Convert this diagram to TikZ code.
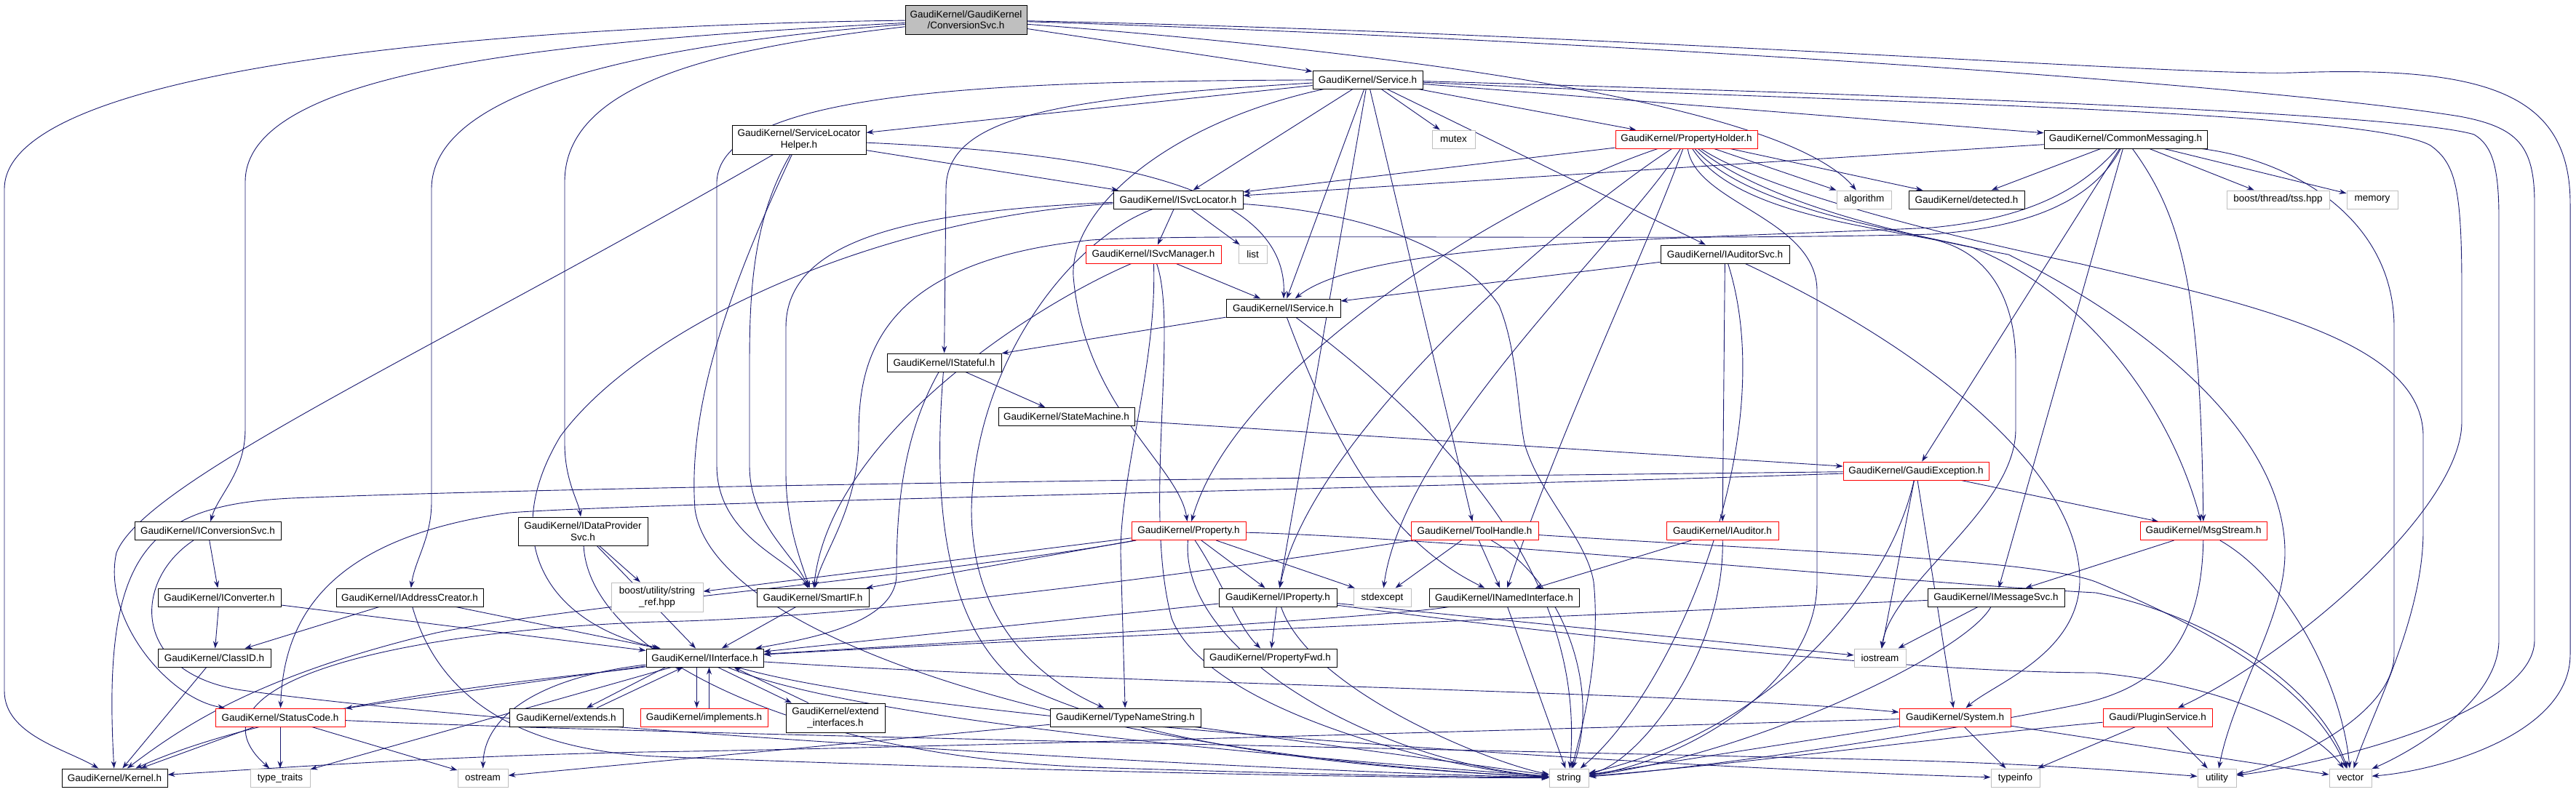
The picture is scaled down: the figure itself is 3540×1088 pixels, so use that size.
\documentclass[tikz,border=0pt]{standalone}
\usepackage{fontspec}
\setmainfont{Liberation Sans}
\usetikzlibrary{arrows.meta}
\definecolor{edgec}{RGB}{25,25,112}
\definecolor{greyb}{RGB}{191,191,191}
\pgfdeclarelayer{bg}
\pgfsetlayers{bg,main}
\tikzset{
 bx/.style={draw=black, line width=1pt, rectangle, inner sep=0pt, align=center, font=\fontsize{13.5}{15.5}\selectfont, fill=white},
 rb/.style={bx, draw=red},
 gb/.style={bx, draw=greyb},
 rootb/.style={bx, fill=greyb},
 edg/.style={draw=edgec, line width=0.9pt, -{Stealth[length=10pt,width=7pt]}},
}
\newcommand{\nd}[7]{\node[#6,minimum width=#4pt,minimum height=#5pt] (#1) at (#2,#3) {#7};}
\begin{document}
\begin{tikzpicture}[x=1pt,y=-1pt]
\useasboundingbox (0,0) rectangle (3540,1088);
\nd{root}{1327.5}{27}{167}{40}{rootb}{GaudiKernel/GaudiKernel\\/ConversionSvc.h}
\nd{Service}{1879.5}{109.5}{151}{25}{bx}{GaudiKernel/Service.h}
\nd{SLH}{1098}{192}{184}{40}{bx}{GaudiKernel/ServiceLocator\\Helper.h}
\nd{mutex}{1997.5}{191.5}{59}{25}{gb}{mutex}
\nd{PH}{2317.5}{191.5}{195}{25}{rb}{GaudiKernel/PropertyHolder.h}
\nd{CM}{2921}{191.5}{224}{25}{bx}{GaudiKernel/CommonMessaging.h}
\nd{ISL}{1619}{274.5}{178}{25}{bx}{GaudiKernel/ISvcLocator.h}
\nd{algorithm}{2561.5}{274.5}{75}{25}{gb}{algorithm}
\nd{detected}{2702.5}{274.5}{159}{25}{bx}{GaudiKernel/detected.h}
\nd{tss}{3130.5}{274.5}{141}{25}{gb}{boost/thread/tss.hpp}
\nd{memory}{3260}{274.5}{70}{25}{gb}{memory}
\nd{ISM}{1585}{349.5}{186}{25}{rb}{GaudiKernel/ISvcManager.h}
\nd{list}{1721.5}{349.5}{39}{25}{gb}{list}
\nd{IAS}{2370.5}{349.5}{177}{25}{bx}{GaudiKernel/IAuditorSvc.h}
\nd{IService}{1763.5}{423.5}{157}{25}{bx}{GaudiKernel/IService.h}
\nd{IStateful}{1297.5}{498.5}{157}{25}{bx}{GaudiKernel/IStateful.h}
\nd{SM}{1465.5}{573}{187}{25}{bx}{GaudiKernel/StateMachine.h}
\nd{GE}{2633}{647.5}{200}{25}{rb}{GaudiKernel/GaudiException.h}
\nd{ICS}{285.5}{730}{201}{25}{bx}{GaudiKernel/IConversionSvc.h}
\nd{IDP}{801}{730.5}{178}{39}{bx}{GaudiKernel/IDataProvider\\Svc.h}
\nd{TH}{2026.5}{730}{175}{25}{rb}{GaudiKernel/ToolHandle.h}
\nd{IAud}{2367}{730}{154}{25}{rb}{GaudiKernel/IAuditor.h}
\nd{MS}{3028}{730}{174}{25}{rb}{GaudiKernel/MsgStream.h}
\nd{Prop}{1633.5}{730}{157}{25}{rb}{GaudiKernel/Property.h}
\nd{ICv}{301.5}{821.5}{169}{25}{bx}{GaudiKernel/IConverter.h}
\nd{IAC}{563}{821.5}{202}{25}{bx}{GaudiKernel/IAddressCreator.h}
\nd{sref}{903}{821}{126}{40}{gb}{boost/utility/string\\\_ref.hpp}
\nd{SmartIF}{1117}{821.5}{154}{25}{bx}{GaudiKernel/SmartIF.h}
\nd{IProp}{1756}{821.5}{162}{25}{bx}{GaudiKernel/IProperty.h}
\nd{stdexcept}{1899.5}{821.5}{79}{25}{gb}{stdexcept}
\nd{INI}{2067}{821.5}{206}{25}{bx}{GaudiKernel/INamedInterface.h}
\nd{IMS}{2743}{821.5}{188}{25}{bx}{GaudiKernel/IMessageSvc.h}
\nd{ClassID}{294.5}{904.5}{155}{25}{bx}{GaudiKernel/ClassID.h}
\nd{IIf}{968.5}{904.5}{161}{25}{bx}{GaudiKernel/IInterface.h}
\nd{PFwd}{1745.5}{904.5}{183}{25}{bx}{GaudiKernel/PropertyFwd.h}
\nd{iostream}{2583.5}{904.5}{71}{25}{gb}{iostream}
\nd{SC}{385}{986.5}{178}{25}{rb}{GaudiKernel/StatusCode.h}
\nd{extends}{778}{986.5}{156}{25}{bx}{GaudiKernel/extends.h}
\nd{implements}{967.5}{986.5}{175}{25}{rb}{GaudiKernel/implements.h}
\nd{extif}{1148}{987}{136}{40}{bx}{GaudiKernel/extend\\\_interfaces.h}
\nd{TNS}{1546.5}{986.5}{207}{25}{bx}{GaudiKernel/TypeNameString.h}
\nd{System}{2686.5}{986.5}{153}{25}{rb}{GaudiKernel/System.h}
\nd{PS}{2965}{986.5}{150}{25}{rb}{Gaudi/PluginService.h}
\nd{Kernel}{157.5}{1069.5}{145}{25}{bx}{GaudiKernel/Kernel.h}
\nd{ttraits}{385}{1069.5}{82}{25}{gb}{type\_traits}
\nd{ostream}{663.5}{1069.5}{69}{25}{gb}{ostream}
\nd{string}{2156}{1069.5}{54}{25}{gb}{string}
\nd{typeinfo}{2769.5}{1069.5}{67}{25}{gb}{typeinfo}
\nd{utility}{3046.5}{1069.5}{53}{25}{gb}{utility}
\nd{vector}{3230}{1069.5}{58}{25}{gb}{vector}
\begin{pgfonlayer}{bg}
\fill[white] (0,0) rectangle (3540,1088);
% root
\draw[edg] (root) -- (Service);
\draw[edg] (root) .. controls (700,35) and (6,90) .. (6,260) -- (6,950) .. controls (6,1010) and (90,1030) .. (Kernel);
\draw[edg] (root) .. controls (800,55) and (337,90) .. (337,250) -- (337,590) .. controls (337,650) and (300,680) .. (ICS);
\draw[edg] (root) .. controls (900,60) and (593,120) .. (593,260) -- (593,690) .. controls (593,740) and (570,770) .. (IAC);
\draw[edg] (root) .. controls (1000,65) and (776,110) .. (776,250) -- (776,610) .. controls (776,660) and (795,690) .. (IDP);
\draw[edg] (root) .. controls (1900,70) and (2450,140) .. (algorithm);
\draw[edg] (root) .. controls (2200,45) and (3000,105) .. (3150,100) .. controls (3420,90) and (3532,130) .. (3532,280) -- (3532,900) .. controls (3532,1010) and (3350,1060) .. (vector);
\draw[edg] (root) .. controls (2200,55) and (3100,115) .. (3380,160) .. controls (3460,175) and (3483,200) .. (3483,280) -- (3483,880) .. controls (3483,980) and (3200,1050) .. (utility);
% Service
\draw[edg] (Service) -- (SLH);
\draw[edg] (Service) -- (ISL);
\draw[edg] (Service) -- (mutex);
\draw[edg] (Service) -- (PH);
\draw[edg] (Service) -- (CM);
\draw[edg] (Service) -- (IAS);
\draw[edg] (Service) .. controls (1450,135) and (1300,160) .. (1300,260) -- (IStateful);
\draw[edg] (Service) -- (IService);
\draw[edg] (Service) .. controls (1400,112) and (990,120) .. (985,250) -- (985,640) .. controls (985,740) and (1090,770) .. (SmartIF);
\draw[edg] (Service) .. controls (1600,170) and (1470,290) .. (1475,380) .. controls (1490,560) and (1620,640) .. (Prop);
\draw[edg] (Service) -- (IProp);
\draw[edg] (Service) -- (TH);
\draw[edg] (Service) .. controls (2600,130) and (3300,155) .. (3400,185) .. controls (3425,200) and (3434,230) .. (3434,300) -- (3434,880) .. controls (3434,970) and (3300,1040) .. (vector);
\draw[edg] (Service) .. controls (2500,140) and (3250,150) .. (3340,200) .. controls (3375,225) and (3383,260) .. (3383,400) -- (3383,580) .. controls (3383,700) and (3150,900) .. (PS);
% SLH
\draw[edg] (SLH) -- (ISL);
\draw[edg] (SLH) .. controls (1500,210) and (1770,250) .. (IService);
\draw[edg] (SLH) .. controls (1035,300) and (1030,400) .. (1030,500) -- (1030,640) .. controls (1030,720) and (1090,760) .. (SmartIF);
\draw[edg] (SLH) .. controls (1000,400) and (945,560) .. (955,700) .. controls (980,880) and (1500,1040) .. (string);
\draw[edg] (SLH) .. controls (600,480) and (200,660) .. (160,760) .. controls (140,850) and (230,960) .. (SC);
% PH
\draw[edg] (PH) -- (ISL);
\draw[edg] (PH) -- (algorithm);
\draw[edg] (PH) -- (detected);
\draw[edg] (PH) .. controls (2080,270) and (1700,500) .. (Prop);
\draw[edg] (PH) .. controls (2150,300) and (1800,600) .. (IProp);
\draw[edg] (PH) .. controls (2260,350) and (2140,600) .. (INI);
\draw[edg] (PH) .. controls (2230,330) and (1930,600) .. (stdexcept);
\draw[edg] (PH) .. controls (2330,280) and (2497,300) .. (2497,400) -- (2497,800) .. controls (2497,950) and (2300,1050) .. (string);
\draw[edg] (PH) .. controls (2380,290) and (2560,310) .. (2660,330) .. controls (2740,350) and (2770,420) .. (2770,500) -- (2770,590) .. controls (2770,700) and (2600,800) .. (iostream);
\draw[edg] (PH) .. controls (2400,285) and (2600,315) .. (2710,340) .. controls (2860,400) and (2980,550) .. (MS);
\draw[edg] (PH) .. controls (2420,275) and (2600,320) .. (2760,350) .. controls (2960,450) and (3140,600) .. (3140,760) .. controls (3140,850) and (3070,950) .. (utility);
\draw[edg] (PH) .. controls (2430,265) and (2700,330) .. (2860,363) .. controls (3100,420) and (3330,470) .. (3330,600) -- (3330,730) .. controls (3330,850) and (3260,980) .. (vector);
% CM
\draw[edg] (CM) -- (detected);
\draw[edg] (CM) -- (tss);
\draw[edg] (CM) -- (memory);
\draw[edg] (CM) -- (ISL);
\draw[edg] (CM) .. controls (2860,260) and (2790,300) .. (2655,313) .. controls (2300,330) and (1880,330) .. (IService);
\draw[edg] (CM) .. controls (2880,270) and (2800,312) .. (2655,322) .. controls (2300,332) and (1650,320) .. (1500,330) .. controls (1200,360) and (1180,500) .. (1180,600) .. controls (1180,700) and (1130,760) .. (SmartIF);
\draw[edg] (CM) -- (GE);
\draw[edg] (CM) -- (IMS);
\draw[edg] (CM) .. controls (3000,300) and (3024,400) .. (MS);
\draw[edg] (CM) .. controls (3150,220) and (3290,300) .. (3290,450) -- (3290,900) .. controls (3290,980) and (3150,1050) .. (utility);
% ISL
\draw[edg] (ISL) -- (ISM);
\draw[edg] (ISL) -- (list);
\draw[edg] (ISL) .. controls (1200,300) and (880,450) .. (770,600) .. controls (680,750) and (760,860) .. (IIf);
\draw[edg] (ISL) .. controls (1250,290) and (1080,330) .. (1080,450) -- (1080,650) .. controls (1080,720) and (1100,770) .. (SmartIF);
\draw[edg] (ISL) .. controls (1470,330) and (1340,500) .. (1335,700) .. controls (1335,850) and (1420,930) .. (TNS);
\draw[edg] (ISL) .. controls (1850,290) and (2000,330) .. (2060,420) .. controls (2085,480) and (2085,560) .. (2095,610) .. controls (2115,680) and (2180,740) .. (2190,800) .. controls (2200,900) and (2175,1000) .. (string);
% ISM
\draw[edg] (ISM) -- (IService);
\draw[edg] (ISM) .. controls (1420,420) and (1140,600) .. (SmartIF);
\draw[edg] (ISM) .. controls (1590,500) and (1540,650) .. (1540,760) -- (TNS);
\draw[edg] (ISM) .. controls (1620,450) and (1570,700) .. (1610,850) .. controls (1660,980) and (2000,1060) .. (string);
% IAS
\draw[edg] (IAS) -- (IService);
\draw[edg] (IAS) -- (IAud);
\draw[edg] (IAS) .. controls (2450,600) and (2300,950) .. (string);
\draw[edg] (IAS) .. controls (2650,480) and (2860,650) .. (2858,800) .. controls (2855,900) and (2740,940) .. (System);
% IService
\draw[edg] (IService) -- (IStateful);
\draw[edg] (IService) .. controls (1830,600) and (1900,740) .. (INI);
\draw[edg] (IService) .. controls (2000,600) and (2180,800) .. (string);
% IStateful
\draw[edg] (IStateful) -- (SM);
\draw[edg] (IStateful) .. controls (1240,600) and (1232,700) .. (1232,790) .. controls (1232,860) and (1100,880) .. (IIf);
\draw[edg] (IStateful) .. controls (1285,650) and (1285,850) .. (1400,940) .. controls (1600,1040) and (1950,1060) .. (string);
% SM
\draw[edg] (SM) -- (GE);
% GE
\draw[edg] (GE) -- (MS);
\draw[edg] (GE) .. controls (2000,655) and (900,665) .. (400,685) .. controls (200,695) and (140,760) .. (Kernel);
\draw[edg] (GE) .. controls (2000,670) and (900,690) .. (700,705) .. controls (450,740) and (390,850) .. (SC);
\draw[edg] (GE) -- (System);
\draw[edg] (GE) .. controls (2600,800) and (2450,1000) .. (string);
\draw[edg] (GE) -- (iostream);
% ICS
\draw[edg] (ICS) -- (ICv);
\draw[edg] (ICS) .. controls (180,800) and (180,930) .. (340,950) .. controls (700,1000) and (1700,1060) .. (string);
% ICv
\draw[edg] (ICv) -- (ClassID);
\draw[edg] (ICv) -- (IIf);
% IAC
\draw[edg] (IAC) -- (ClassID);
\draw[edg] (IAC) -- (IIf);
\draw[edg] (IAC) .. controls (600,950) and (700,1030) .. (900,1040) .. controls (1400,1060) and (1900,1070) .. (string);
% ClassID
\draw[edg] (ClassID) -- (Kernel);
% IDP
\draw[edg] (IDP) -- (sref);
\draw[edg] (IDP) -- (IIf);
\draw[edg] (IDP) .. controls (810,900) and (1100,1040) .. (1500,1055) .. controls (1800,1065) and (2000,1068) .. (string);
% TH
\draw[edg] (TH) -- (stdexcept);
\draw[edg] (TH) -- (INI);
\draw[edg] (TH) .. controls (2150,800) and (2200,950) .. (string);
\draw[edg] (TH) .. controls (1700,780) and (1200,850) .. (900,855) .. controls (500,870) and (250,950) .. (ttraits);
\draw[edg] (TH) .. controls (2500,760) and (2800,770) .. (2880,800) .. controls (3050,870) and (3180,950) .. (vector);
% IAud
\draw[edg] (IAud) -- (INI);
\draw[edg] (IAud) .. controls (2370,900) and (2250,1050) .. (string);
% MS
\draw[edg] (MS) -- (IMS);
\draw[edg] (MS) .. controls (3025,900) and (2950,950) .. (2850,970) .. controls (2600,1020) and (2300,1060) .. (string);
\draw[edg] (MS) .. controls (3150,800) and (3220,950) .. (vector);
% Prop
\draw[edg] (Prop) -- (sref);
\draw[edg] (Prop) -- (SmartIF);
\draw[edg] (Prop) .. controls (1300,790) and (800,830) .. (600,870) .. controls (350,930) and (250,1000) .. (Kernel);
\draw[edg] (Prop) -- (IProp);
\draw[edg] (Prop) .. controls (1680,800) and (1700,860) .. (PFwd);
\draw[edg] (Prop) -- (stdexcept);
\draw[edg] (Prop) .. controls (1620,900) and (1900,1050) .. (string);
\draw[edg] (Prop) .. controls (2000,740) and (2600,800) .. (2880,815) .. controls (3050,850) and (3190,950) .. (vector);
% IProp
\draw[edg] (IProp) -- (IIf);
\draw[edg] (IProp) -- (PFwd);
\draw[edg] (IProp) .. controls (1800,950) and (2050,1050) .. (string);
\draw[edg] (IProp) -- (iostream);
\draw[edg] (IProp) .. controls (2200,880) and (2650,925) .. (2880,925) .. controls (3050,940) and (3180,1000) .. (vector);
% INI
\draw[edg] (INI) .. controls (1900,850) and (1200,890) .. (IIf);
\draw[edg] (INI) -- (string);
% IMS
\draw[edg] (IMS) .. controls (2300,840) and (1400,880) .. (IIf);
\draw[edg] (IMS) -- (iostream);
\draw[edg] (IMS) .. controls (2700,900) and (2400,1040) .. (string);
% SmartIF
\draw[edg] (SmartIF) -- (IIf);
% IIf
\draw[edg] (IIf) .. controls (800,930) and (400,960) .. (Kernel);
\draw[edg] (IIf) -- (SC);
\draw[edg] (IIf) -- (ttraits);
\draw[edg] (IIf) .. controls (750,930) and (665,980) .. (ostream);
\draw[edg] (IIf) .. controls (1500,940) and (2300,950) .. (System);
\draw[edg] (IIf) .. controls (1300,1000) and (2400,1060) .. (typeinfo);
\draw[edg] (IIf) .. controls (1200,1000) and (1900,1050) .. (string);
\draw[edg] ([xshift=-54pt]IIf.south) -- ([xshift=28pt]extends.north);
\draw[edg] ([xshift=42pt]extends.north) -- ([xshift=-30pt]IIf.south);
\draw[edg] ([xshift=-11pt]IIf.south) -- ([xshift=-10pt]implements.north);
\draw[edg] ([xshift=7pt]implements.north) -- ([xshift=6pt]IIf.south);
\draw[edg] ([xshift=18pt]IIf.south) -- ([xshift=-60pt]extif.north);
\draw[edg] ([xshift=-37pt]extif.north) -- ([xshift=40pt]IIf.south);
% SC
\draw[edg] (SC) -- (Kernel);
\draw[edg] (SC) -- (ttraits);
\draw[edg] (SC) -- (ostream);
\draw[edg] (SC) .. controls (900,1010) and (2000,1030) .. (2600,1045) .. controls (2800,1050) and (2950,1062) .. (utility);
% TNS
\draw[edg] (TNS) -- (string);
\draw[edg] (TNS) -- (ostream);
% System
\draw[edg] (System) -- (typeinfo);
\draw[edg] (System) -- (vector);
\draw[edg] (System) -- (string);
\draw[edg] (System) .. controls (2200,1000) and (1200,1030) .. (885,1034) .. controls (600,1040) and (400,1055) .. (Kernel);
% PS
\draw[edg] (PS) -- (typeinfo);
\draw[edg] (PS) -- (utility);
\draw[edg] (PS) .. controls (2700,1010) and (2400,1050) .. (string);
\end{pgfonlayer}
\end{tikzpicture}
\end{document}
